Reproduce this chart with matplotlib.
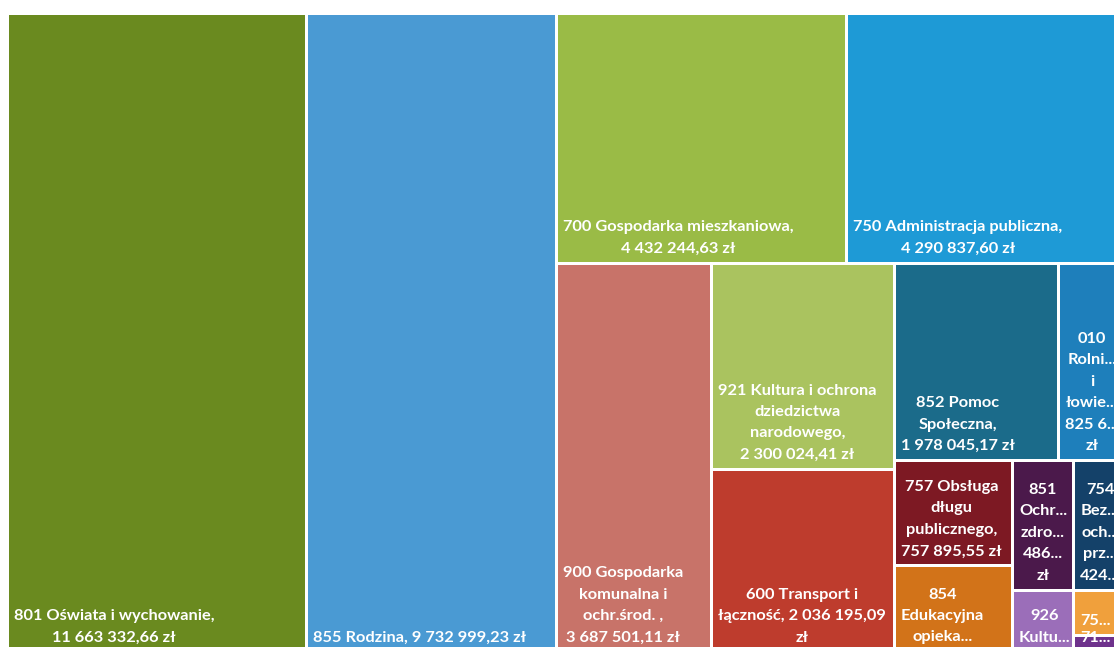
import matplotlib
matplotlib.use("Agg")
import matplotlib.pyplot as plt
from matplotlib.patches import Rectangle

# ---- data -------------------------------------------------------------
codes = ["801", "855", "700", "750", "900", "921", "600", "852", "010",
         "757", "854", "851", "754", "926", "75x", "71x"]
values = [11663332.66, 9732999.23, 4432244.63, 4290837.60, 3687501.11,
          2300024.41, 2036195.09, 1978045.17, 825600.00, 757895.55,
          619000.00, 486000.00, 424000.00, 230000.00, 150000.00, 55000.00]
labels = [
    "801 Oświata i wychowanie,\n11 663 332,66 zł",
    "855 Rodzina, 9 732 999,23 zł",
    "700 Gospodarka mieszkaniowa,\n4 432 244,63 zł",
    "750 Administracja publiczna,\n4 290 837,60 zł",
    "900 Gospodarka\nkomunalna i\nochr.środ. ,\n3 687 501,11 zł",
    "921 Kultura i ochrona\ndziedzictwa\nnarodowego,\n2 300 024,41 zł",
    "600 Transport i\nłączność, 2 036 195,09\nzł",
    "852 Pomoc\nSpołeczna,\n1 978 045,17 zł",
    "010\nRolni...\ni\nłowie...\n825 6...\nzł",
    "757 Obsługa\ndługu\npublicznego,\n757 895,55 zł",
    "854\nEdukacyjna\nopieka...",
    "851\nOchr...\nzdro...\n486...\nzł",
    "754\nBez...\noch...\nprz...\n424...",
    "926\nKultu...",
    "75...",
    "71...",
]
colors = ["#6A8A1F", "#4A9AD3", "#9ABB46", "#1E9AD6", "#C87369", "#AAC35F",
          "#BE3C2D", "#1B6B8A", "#1E7FBB", "#7D1923", "#D27319", "#4B194B",
          "#144169", "#9B6EB9", "#F0A03C", "#6E328C"]

# number of items per strip in the treemap layout (as in the original chart)
strip_sizes = [1, 1, 2, 1, 2, 2, 2, 2, 1, 1, 1]


# ---- strip treemap layout ---------------------------------------------
def treemap(vals, sizes, x, y, w, h):
    scale = w * h / sum(vals)
    areas = [v * scale for v in vals]
    rects = []
    i = 0
    for k in sizes:
        group = areas[i:i + k]
        if not group:
            break
        vertical = w >= h          # column strip along the shorter side
        side = h if vertical else w
        thick = sum(group) / side
        pos = y if vertical else x
        for a in group:
            length = a / thick
            if vertical:
                rects.append((x, pos, thick, length))
            else:
                rects.append((pos, y, length, thick))
            pos += length
        if vertical:
            x += thick
            w -= thick
        else:
            y += thick
            h -= thick
        i += k
    return rects


FIG_W, FIG_H = 1114, 647
fig = plt.figure(figsize=(FIG_W / 100, FIG_H / 100), dpi=100)
ax = fig.add_axes([0, 0, 1, 1])
ax.set_xlim(0, FIG_W)
ax.set_ylim(FIG_H, 0)
ax.axis("off")

rects = treemap(values, strip_sizes, 7.5, 13.0, 1120, 639)
gap = 3.0
for (x, y, w, h), lab, col in zip(rects, labels, colors):
    ax.add_patch(Rectangle((x + gap / 2, y + gap / 2), w - gap, h - gap,
                           facecolor=col, edgecolor="none"))
    ax.text(x + gap / 2 + 5, y + h - gap / 2 - 6, lab, ha="left", va="bottom",
            multialignment="center", color="white", fontsize=11.8,
            fontweight="bold", family=["Lato", "DejaVu Sans"],
            linespacing=1.68)

fig.savefig("out.png", dpi=100, facecolor="white")
